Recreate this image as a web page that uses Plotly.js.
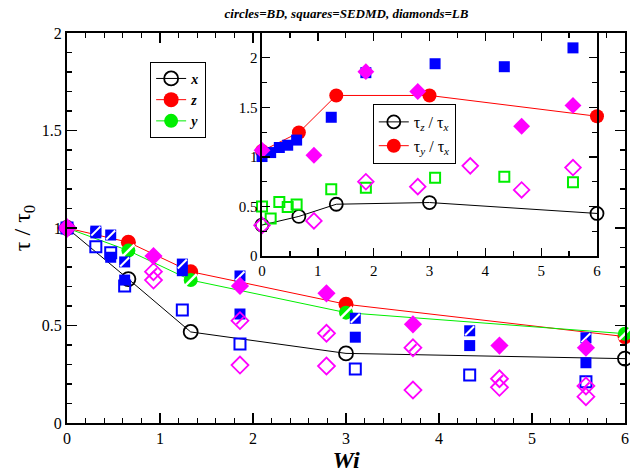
<!DOCTYPE html>
<html>
<head>
<meta charset="utf-8">
<script src="https://cdn.plot.ly/plotly-3.0.1.min.js"></script>
<style>html,body{margin:0;padding:0;background:#fff;}#chart{width:630px;height:473px;}</style>
</head>
<body>
<div id="chart"></div>
<script>
// ---- main plot: BD circles ----
const bdX  = [0, 0.66, 1.33, 3.0, 6.0];
const bdTx = [1, 0.738, 0.467, 0.357, 0.330];
const bdTz = [1, 0.927, 0.776, 0.609, 0.443];
const bdTy = [1, 0.884, 0.733, 0.566, 0.458];
// ---- main plot: SEDMD squares ----
const sqX      = [0, 0.31, 0.47, 0.62, 1.24, 1.86, 3.10, 4.33, 5.58];
const sqHatch  = [1, 0.984, 0.964, 0.826, 0.815, 0.754, 0.537, 0.473, 0.437];
const sqFilled = [1, 0.975, 0.850, 0.733, 0.781, 0.559, 0.440, 0.397, 0.309];
const sqOpen   = [1, 0.904, 0.873, 0.703, 0.579, 0.405, 0.277, 0.246, 0.212];
// ---- main plot: LB diamonds ----
const dmX      = [0, 0.93, 1.86, 2.79, 3.72, 4.65, 5.58];
const dmFilled = [1, 0.856, 0.703, 0.665, 0.506, 0.397, 0.386];
const dmHatch  = [1, 0.776, 0.525, 0.460, 0.386, 0.227, 0.190];
const dmOpen   = [1, 0.733, 0.297, 0.292, 0.169, 0.183, 0.135];
// ---- inset ----
const inX   = [0, 0.66, 1.33, 3.0, 6.0];
const inTzx = [0.313, 0.400, 0.523, 0.540, 0.430];
const inTyx = [1.06, 1.246, 1.62, 1.62, 1.41];
const inSqX = [0, 0.155, 0.31, 0.46, 0.62, 1.24, 1.86, 3.10, 4.34, 5.57];
const inSqYX = [1.004, 1.044, 1.095, 1.118, 1.17, 1.40, 1.85, 1.94, 1.91, 2.10];
const inSqZX = [0.50, 0.38, 0.546, 0.496, 0.52, 0.674, 0.69, 0.79, 0.80, 0.745];
const inDmFX = [0, 0.93, 1.86, 2.79, 4.65, 5.57];
const inDmYX = [1.067, 1.017, 1.86, 1.66, 1.31, 1.52];
const inDmOX = [0, 0.93, 1.86, 2.79, 3.73, 4.65, 5.57];
const inDmZX = [0.31, 0.355, 0.75, 0.70, 0.91, 0.667, 0.893];

const SERIF = 'Liberation Serif, Times New Roman, serif';
const BLUE = '#0000ff', RED = '#ff0000', GREEN = '#00ee00', MAG = '#ff00ff';

function mk(x, y, opts) {
  return Object.assign({x: x, y: y, type: 'scatter', mode: 'markers', showlegend: false, cliponaxis: false}, opts);
}

const traces = [
  // BD lines
  mk(bdX, bdTx, {mode: 'lines+markers', name: '<b><i>x</i></b>', showlegend: true, legend: 'legend',
    line: {color: '#000', width: 1}, marker: {symbol: 'circle-open', size: 14, color: '#000', line: {width: 1.8, color: '#000'}}}),
  mk(bdX, bdTz, {mode: 'lines+markers', name: '<b><i>z</i></b>', showlegend: true, legend: 'legend',
    line: {color: RED, width: 1}, marker: {symbol: 'circle', size: 15, color: RED}}),
  mk(bdX, bdTy, {mode: 'lines+markers', name: '<b><i>y</i></b>', showlegend: true, legend: 'legend',
    line: {color: GREEN, width: 1}, marker: {symbol: 'circle', size: 14, color: GREEN}}),
  mk(bdX, bdTy, {marker: {symbol: 'line-ne', size: 12, line: {width: 2.5, color: '#fff'}}, hoverinfo: 'skip'}),
  // squares
  mk(sqX, sqOpen, {marker: {symbol: 'square-open', size: 11, color: BLUE, line: {width: 2, color: BLUE}}}),
  mk(sqX, sqFilled, {marker: {symbol: 'square', size: 11, color: BLUE}}),
  mk(sqX, sqHatch, {marker: {symbol: 'square', size: 11, color: BLUE}}),
  mk(sqX, sqHatch, {marker: {symbol: 'line-ne', size: 9, line: {width: 2, color: '#fff'}}, hoverinfo: 'skip'}),
  // diamonds
  mk(dmX, dmOpen, {marker: {symbol: 'diamond-open', size: 13, color: MAG, line: {width: 1.8, color: MAG}}}),
  mk(dmX, dmFilled, {marker: {symbol: 'diamond', size: 14, color: MAG}}),
  mk(dmX, dmHatch, {marker: {symbol: 'diamond-open', size: 13, color: MAG, line: {width: 1.8, color: MAG}}}),
  mk(dmX, dmHatch, {marker: {symbol: 'line-ne', size: 7, line: {width: 2, color: MAG}}, hoverinfo: 'skip'}),
  // inset
  mk(inX, inTzx, {xaxis: 'x2', yaxis: 'y2', mode: 'lines+markers', name: 'τ<sub><i>z</i></sub> / τ<sub><i>x</i></sub>',
    showlegend: true, legend: 'legend2', line: {color: '#000', width: 1},
    marker: {symbol: 'circle-open', size: 13, color: '#000', line: {width: 1.8, color: '#000'}}}),
  mk(inX, inTyx, {xaxis: 'x2', yaxis: 'y2', mode: 'lines+markers', name: 'τ<sub><i>y</i></sub> / τ<sub><i>x</i></sub>',
    showlegend: true, legend: 'legend2', line: {color: RED, width: 1},
    marker: {symbol: 'circle', size: 14, color: RED}}),
  mk(inSqX, inSqZX, {xaxis: 'x2', yaxis: 'y2', marker: {symbol: 'square-open', size: 10, color: GREEN, line: {width: 2, color: GREEN}}}),
  mk(inSqX, inSqYX, {xaxis: 'x2', yaxis: 'y2', marker: {symbol: 'square', size: 11, color: BLUE}}),
  mk(inDmOX, inDmZX, {xaxis: 'x2', yaxis: 'y2', marker: {symbol: 'diamond-open', size: 12, color: MAG, line: {width: 1.8, color: MAG}}}),
  mk(inDmFX, inDmYX, {xaxis: 'x2', yaxis: 'y2', marker: {symbol: 'diamond', size: 13, color: MAG}})
];

const axBase = {
  showgrid: false, zeroline: false, showline: true, linecolor: '#000', linewidth: 2,
  mirror: 'allticks', ticks: 'inside', tickcolor: '#000', tickwidth: 1.3,
  tickfont: {family: SERIF, size: 16, color: '#000'}
};

const layout = {
  width: 630, height: 473,
  margin: {l: 67, r: 5, t: 33, b: 50},
  paper_bgcolor: '#fff', plot_bgcolor: '#fff',
  font: {family: SERIF, color: '#000'},
  title: {text: '<b><i>circles=BD, squares=SEDMD, diamonds=LB</i></b>', font: {family: SERIF, size: 13, color: '#000'},
    x: 0.55, xanchor: 'center', y: 0.972, yanchor: 'middle'},
  xaxis: Object.assign({}, axBase, {range: [0, 6], dtick: 1, tick0: 0, ticklen: 10,
    minor: {dtick: 0.2, ticklen: 5, ticks: 'inside', tickcolor: '#000', tickwidth: 1.2},
    title: {text: '<b><i>Wi</i></b>', font: {family: SERIF, size: 24, color: '#000'}, standoff: 9}}),
  yaxis: Object.assign({}, axBase, {range: [0, 2], dtick: 0.5, tick0: 0, ticklen: 10,
    minor: {dtick: 0.1, ticklen: 5, ticks: 'inside', tickcolor: '#000', tickwidth: 1.2},
    title: {text: 'τ / τ<sub>0</sub>', font: {family: SERIF, size: 24, color: '#000'}, standoff: 4}}),
  xaxis2: Object.assign({}, axBase, {domain: [0.3495, 0.9498], anchor: 'y2', range: [0, 6], dtick: 1, tick0: 0, ticklen: 8,
    linewidth: 1.6, tickfont: {family: SERIF, size: 15, color: '#000'},
    minor: {dtick: 0.5, ticklen: 5, ticks: 'inside', tickcolor: '#000', tickwidth: 1.2}}),
  yaxis2: Object.assign({}, axBase, {domain: [0.428, 1], anchor: 'x2', range: [0, 2.25], dtick: 0.5, tick0: 0, ticklen: 8,
    linewidth: 1.6, tickfont: {family: SERIF, size: 15, color: '#000'},
    minor: {dtick: 0.25, ticklen: 5, ticks: 'inside', tickcolor: '#000', tickwidth: 1.2}}),
  legend: {x: 0.149, y: 0.926, xanchor: 'left', yanchor: 'top', bgcolor: '#fff', bordercolor: '#000', borderwidth: 1,
    font: {family: SERIF, size: 14, color: '#000'}, tracegroupgap: 0, itemwidth: 30},
  legend2: {x: 0.548, y: 0.818, xanchor: 'left', yanchor: 'top', bgcolor: '#fff', bordercolor: '#000', borderwidth: 1,
    font: {family: SERIF, size: 16, color: '#000'}, tracegroupgap: 0, itemwidth: 30}
};

Plotly.newPlot('chart', traces, layout, {displayModeBar: false, staticPlot: true});
</script>
</body>
</html>
